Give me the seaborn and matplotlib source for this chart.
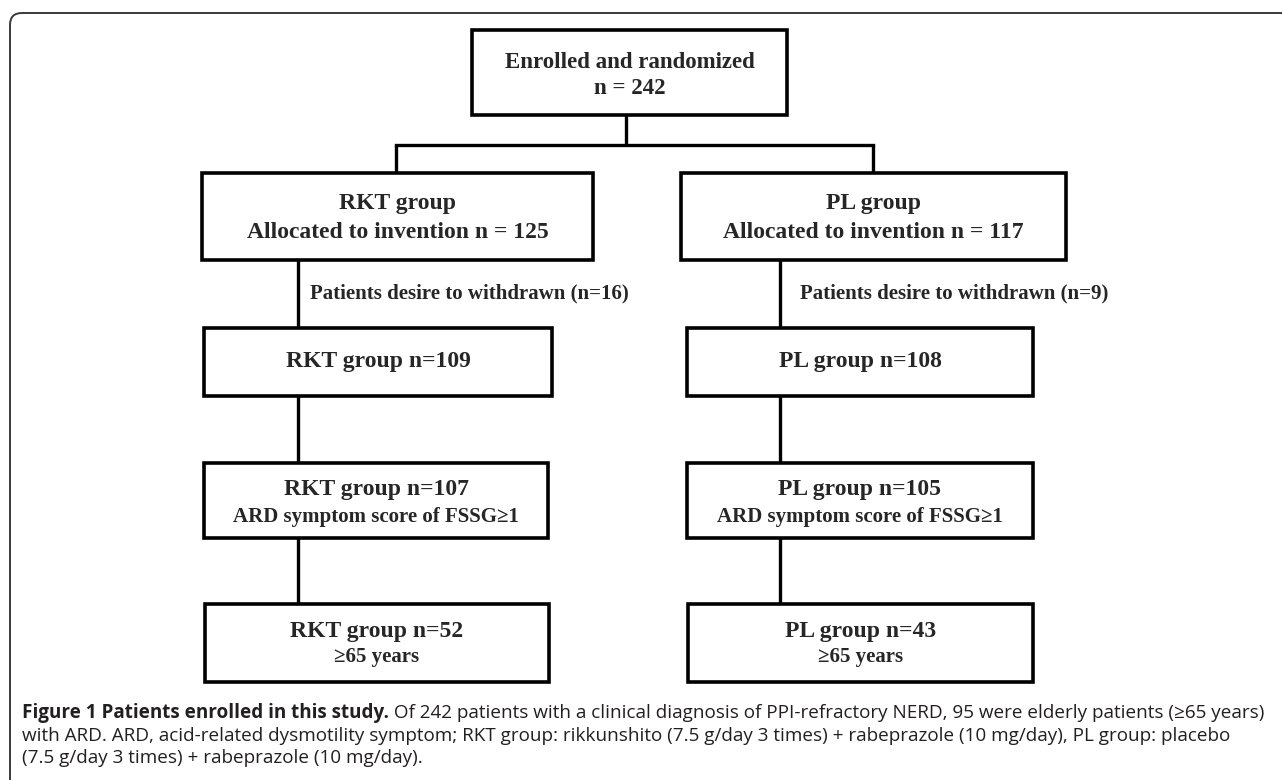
import matplotlib
matplotlib.use("Agg")
import matplotlib.pyplot as plt
import seaborn as sns
from matplotlib.patches import Rectangle, FancyBboxPatch

# --- data (from the flow chart) ---
total_enrolled = 242
group_names = ["RKT", "PL"]
allocated = [125, 117]
withdrawn = [16, 9]
completed = [109, 108]
ard_positive = [107, 105]
elderly = [52, 43]

caption_bold = "Figure 1 Patients enrolled in this study."
caption_lines = [
    " Of 242 patients with a clinical diagnosis of PPI-refractory NERD, 95 were elderly patients (\u226565 years)",
    "with ARD. ARD, acid-related dysmotility symptom; RKT group: rikkunshito (7.5 g/day 3 times) + rabeprazole (10 mg/day), PL group: placebo",
    "(7.5 g/day 3 times) + rabeprazole (10 mg/day).",
]

# --- layout (pixels, y downwards) ---
W, H = 1282, 780
top_box = (472, 30, 787, 115)
col_boxes = {
    "RKT": [(202, 173, 593, 260), (204, 328, 552, 396), (204, 463, 548, 538), (205, 604, 549, 682)],
    "PL": [(681, 173, 1066, 260), (687, 328, 1033, 396), (687, 463, 1033, 538), (688, 604, 1033, 682)],
}
col_line_x = {"RKT": 298, "PL": 780}
branch_x = {"RKT": 396, "PL": 873}
withdraw_x = {"RKT": 310, "PL": 800}
branch_y = 145
center_x = 626

sns.set_theme(style="white")
serif = ["Liberation Serif", "DejaVu Serif"]
sans = ["Open Sans", "DejaVu Sans"]

fig = plt.figure(figsize=(W / 100, H / 100), dpi=100)
ax = fig.add_axes([0, 0, 1, 1])
ax.set_xlim(0, W)
ax.set_ylim(H, 0)
ax.axis("off")

# outer rounded frame (runs off the right and bottom edges)
frame = FancyBboxPatch((10, 13), W + 40, H + 40,
                       boxstyle="round,pad=0,rounding_size=12",
                       fill=False, ec="#3a3a3a", lw=1.4)
ax.add_patch(frame)

box_lw = 2.6
line_lw = 2.4


def draw_box(b):
    x0, y0, x1, y1 = b
    ax.add_patch(Rectangle((x0, y0), x1 - x0, y1 - y0, fill=False,
                           ec="black", lw=box_lw, joinstyle="miter"))


def vline(x, y0, y1):
    ax.plot([x, x], [y0, y1], color="black", lw=line_lw, solid_capstyle="butt")


# top box
draw_box(top_box)
tcx = (top_box[0] + top_box[2]) / 2
ax.text(tcx, 62, "Enrolled and randomized", ha="center", va="center",
        family=serif, weight="bold", fontsize=16.5)
ax.text(tcx, 89, f"n = {total_enrolled}", ha="center", va="center",
        family=serif, weight="bold", fontsize=16.5)

# branch
vline(center_x, top_box[3], branch_y)
ax.plot([branch_x["RKT"], branch_x["PL"]], [branch_y, branch_y],
        color="black", lw=line_lw, solid_capstyle="projecting")
for g in group_names:
    vline(branch_x[g], branch_y, col_boxes[g][0][1])

main_fs = 17
sub_fs = 15

for i, g in enumerate(group_names):
    boxes = col_boxes[g]
    for b in boxes:
        draw_box(b)
    # connectors between stages
    for k in range(len(boxes) - 1):
        vline(col_line_x[g], boxes[k][3], boxes[k + 1][1])

    cx = [(b[0] + b[2]) / 2 for b in boxes]
    ax.text(cx[0], 203, f"{g} group", ha="center", va="center",
            family=serif, weight="bold", fontsize=main_fs)
    ax.text(cx[0], 232, f"Allocated to invention n = {allocated[i]}", ha="center",
            va="center", family=serif, weight="bold", fontsize=main_fs)
    ax.text(withdraw_x[g], 293, f"Patients desire to withdrawn (n={withdrawn[i]})",
            ha="left", va="center", family=serif, weight="bold", fontsize=sub_fs)
    ax.text(cx[1], 362, f"{g} group n={completed[i]}", ha="center", va="center",
            family=serif, weight="bold", fontsize=main_fs)
    ax.text(cx[2], 490, f"{g} group n={ard_positive[i]}", ha="center", va="center",
            family=serif, weight="bold", fontsize=main_fs)
    ax.text(cx[2], 517, "ARD symptom score of FSSG\u22651", ha="center", va="center",
            family=serif, weight="bold", fontsize=sub_fs)
    ax.text(cx[3], 631, f"{g} group n={elderly[i]}", ha="center", va="center",
            family=serif, weight="bold", fontsize=main_fs)
    ax.text(cx[3], 657, "\u226565 years", ha="center", va="center",
            family=serif, weight="bold", fontsize=sub_fs)

# caption: size chosen so the first line reaches the right edge like the original
cap_color = "#231f20"
renderer = fig.canvas.get_renderer()


def caption_width(fs):
    a = ax.text(0, 0, caption_bold, family=sans, weight="bold", fontsize=fs)
    b = ax.text(0, 0, caption_lines[0], family=sans, fontsize=fs)
    w = a.get_window_extent(renderer).width + b.get_window_extent(renderer).width
    a.remove()
    b.remove()
    return w


cap_fs = 12.0 * 1240 / caption_width(12.0)

t_bold = ax.text(22, 713, caption_bold, ha="left", va="center", family=sans,
                 weight="bold", fontsize=cap_fs, color=cap_color)
bb = t_bold.get_window_extent(renderer=renderer)
x_end = ax.transData.inverted().transform((bb.x1, 0))[0]
ax.text(x_end, 713, caption_lines[0], ha="left", va="center", family=sans,
        fontsize=cap_fs, color=cap_color)
ax.text(22, 736, caption_lines[1], ha="left", va="center", family=sans,
        fontsize=cap_fs, color=cap_color)
ax.text(22, 758, caption_lines[2], ha="left", va="center", family=sans,
        fontsize=cap_fs, color=cap_color)

fig.savefig("out.png", dpi=100)
